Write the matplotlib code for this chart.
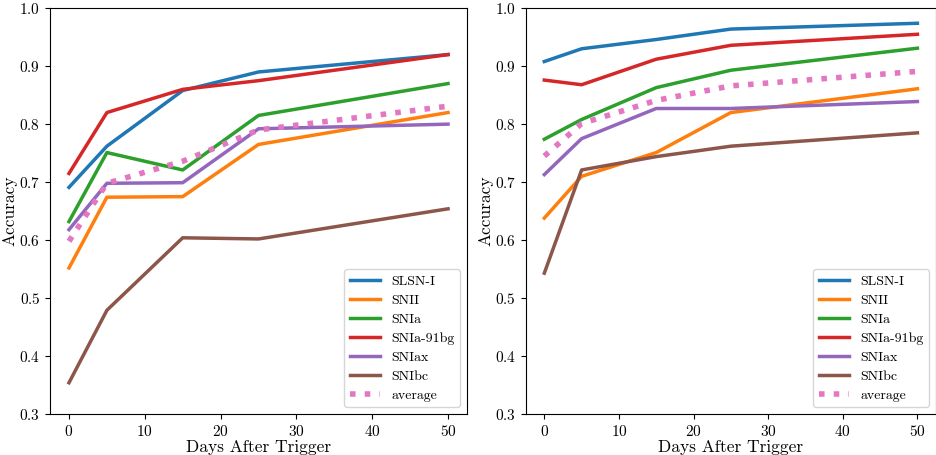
import matplotlib
matplotlib.use("Agg")
import matplotlib.pyplot as plt

plt.rcParams['font.family'] = ['cmr10', 'DejaVu Serif']
plt.rcParams['mathtext.fontset'] = 'cm'
plt.rcParams['axes.formatter.use_mathtext'] = True

days = [0, 5, 15, 25, 50]
labels = ['SLSN-I', 'SNII', 'SNIa', 'SNIa-91bg', 'SNIax', 'SNIbc']

# left panel
left_vals = [
    [0.691, 0.762, 0.858, 0.890, 0.920],
    [0.552, 0.674, 0.675, 0.765, 0.820],
    [0.632, 0.751, 0.721, 0.815, 0.870],
    [0.715, 0.820, 0.860, 0.875, 0.920],
    [0.618, 0.698, 0.699, 0.792, 0.800],
    [0.354, 0.479, 0.604, 0.602, 0.654],
]
left_avg = [0.598, 0.698, 0.736, 0.790, 0.831]

# right panel
right_vals = [
    [0.908, 0.930, 0.946, 0.964, 0.974],
    [0.638, 0.710, 0.751, 0.820, 0.861],
    [0.774, 0.808, 0.863, 0.893, 0.931],
    [0.876, 0.868, 0.912, 0.936, 0.955],
    [0.713, 0.775, 0.827, 0.827, 0.839],
    [0.543, 0.721, 0.744, 0.762, 0.785],
]
right_avg = [0.745, 0.801, 0.841, 0.866, 0.891]

fig = plt.figure(figsize=(9.37, 4.55), dpi=100)
ax1 = fig.add_axes([0.0534, 0.090, 0.445, 0.892])
ax2 = fig.add_axes([0.561, 0.090, 0.438, 0.892])

for ax, vals, avg in [(ax1, left_vals, left_avg), (ax2, right_vals, right_avg)]:
    for lab, v in zip(labels, vals):
        ax.plot(days, v, lw=2.5, label=lab)
    ax.plot(days, avg, ls=':', lw=4, color='tab:pink', label='average')
    ax.set_ylim(0.3, 1.0)
    ax.set_xticks([0, 10, 20, 30, 40, 50])
    ax.set_xlabel('Days After Trigger', fontsize=12.5, labelpad=1)
    ax.set_ylabel('Accuracy', fontsize=12.5, labelpad=1)
    ax.tick_params(labelsize=11)
    ax.legend(loc='lower right', fontsize=10, handlelength=2.2, labelspacing=0.45)

fig.savefig('out.png', dpi=100)
